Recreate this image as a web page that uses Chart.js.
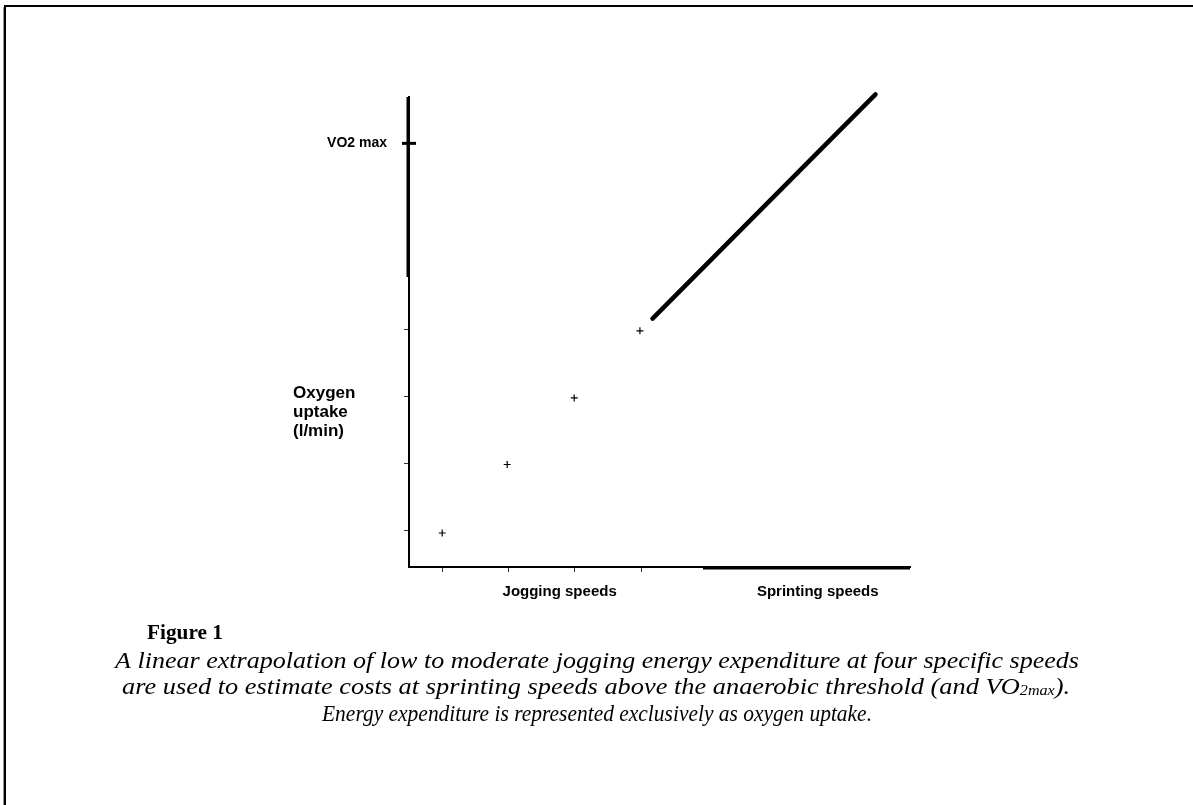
<!DOCTYPE html>
<html><head><meta charset="utf-8">
<script src="https://cdn.jsdelivr.net/npm/chart.js@4.4.0/dist/chart.umd.min.js"></script>
<style>html,body{margin:0;padding:0;background:#fff;overflow:hidden}
#wrap{position:absolute;left:0;top:0;width:1193px;height:805px}</style>
</head><body><div id="wrap"><canvas id="c" width="1193" height="805"></canvas></div>
<script>
// ---- data ----
const xTicks = [1, 2, 3, 4];
const yTicks = [1, 2, 3, 4];
const jogX = [1, 1.98, 2.99, 3.98];
const jogY = [0.97, 1.99, 2.98, 3.98];
const sprintX = [4.17, 7.53];
const sprintY = [4.16, 7.5];
const vo2maxValue = 6.77;
const vo2Label = 'VO2 max';
const yAxisLabel = ['Oxygen', 'uptake', '(l/min)'];
const xGroupLabels = ['Jogging speeds', 'Sprinting speeds'];
const xGroupCenters = [2.77, 6.66];
const captionTitle = 'Figure 1';
const captionLine1 = 'A linear extrapolation of low to moderate jogging energy expenditure at four specific speeds';
const captionLine2a = 'are used to estimate costs at sprinting speeds above the anaerobic threshold (and VO';
const captionLine2sub = '2max';
const captionLine2b = ').';
const captionLine3 = 'Energy expenditure is represented exclusively as oxygen uptake.';

const SANS = "'Liberation Sans', Arial, sans-serif";
const SERIF = "'Liberation Serif', 'Times New Roman', serif";

function drawFit(ctx, segs, cx, baseline, targetW) {
  let w = 0;
  segs.forEach(s => { ctx.font = s.font; s.w = ctx.measureText(s.text).width; w += s.w; });
  const k = targetW / w;
  ctx.save();
  ctx.translate(cx - targetW / 2, baseline);
  ctx.scale(k, 1);
  ctx.textAlign = 'left';
  ctx.textBaseline = 'alphabetic';
  let xpos = 0;
  segs.forEach(s => { ctx.font = s.font; ctx.fillText(s.text, xpos, s.dy || 0); xpos += s.w; });
  ctx.restore();
}

const decor = {
  id: 'decor',
  afterDraw(chart) {
    const { ctx, scales: { x, y }, chartArea: a } = chart;
    ctx.save();
    // page frame
    ctx.strokeStyle = '#000'; ctx.lineWidth = 2;
    ctx.beginPath(); ctx.moveTo(5, 805); ctx.lineTo(5, 6); ctx.lineTo(1193, 6); ctx.stroke();
    ctx.strokeStyle = '#999'; ctx.lineWidth = 1;
    ctx.beginPath(); ctx.moveTo(3.5, 805); ctx.lineTo(3.5, 7); ctx.stroke();
    // thicker upper part of the y axis
    ctx.strokeStyle = '#000'; ctx.lineWidth = 3;
    const ySplit = y.getPixelForValue(4.78);
    ctx.beginPath(); ctx.moveTo(a.left - 1, a.top); ctx.lineTo(a.left - 1, ySplit); ctx.stroke();
    // thicker right part of the x axis
    const xSplit = x.getPixelForValue(4.93);
    ctx.beginPath(); ctx.moveTo(xSplit, a.bottom + 1); ctx.lineTo(a.right, a.bottom + 1); ctx.stroke();
    // VO2 max tick
    const vy = y.getPixelForValue(vo2maxValue);
    ctx.lineWidth = 3;
    ctx.beginPath(); ctx.moveTo(a.left - 7, vy); ctx.lineTo(a.left + 7, vy); ctx.stroke();
    // labels
    ctx.fillStyle = '#000';
    ctx.font = 'bold 14px ' + SANS;
    ctx.textAlign = 'right'; ctx.textBaseline = 'alphabetic';
    ctx.fillText(vo2Label, a.left - 22, vy + 4);
    ctx.font = 'bold 17px ' + SANS;
    ctx.textAlign = 'left';
    yAxisLabel.forEach((t, i) => ctx.fillText(t, 293, 398 + i * 19));
    ctx.font = 'bold 15px ' + SANS;
    ctx.textAlign = 'center';
    xGroupLabels.forEach((t, i) => ctx.fillText(t, x.getPixelForValue(xGroupCenters[i]), 596));
    // caption
    drawFit(ctx, [{ text: captionTitle, font: 'bold 22px ' + SERIF }], 185, 639, 76);
    const it = 'italic 23px ' + SERIF;
    drawFit(ctx, [{ text: captionLine1, font: it }], 597, 668, 964);
    drawFit(ctx, [{ text: captionLine2a, font: it }, { text: captionLine2sub, font: 'italic 14px ' + SERIF, dy: 1 }, { text: captionLine2b, font: it }], 596, 694, 948);
    drawFit(ctx, [{ text: captionLine3, font: it }], 597, 721, 550);
    ctx.restore();
  }
};

const axisCommon = {
  type: 'linear',
  ticks: { display: false },
  grid: { drawOnChartArea: false, drawTicks: true, tickLength: 5, color: '#333', lineWidth: 1 },
  border: { display: true, color: '#000', width: 2 }
};

new Chart(document.getElementById('c').getContext('2d'), {
  type: 'scatter',
  data: {
    datasets: [
      {
        data: jogX.map((v, i) => ({ x: v, y: jogY[i] })),
        showLine: false,
        pointStyle: 'cross',
        pointRadius: 3.5,
        pointBorderColor: '#000',
        pointBackgroundColor: '#000',
        pointBorderWidth: 1.2
      },
      {
        data: sprintX.map((v, i) => ({ x: v, y: sprintY[i] })),
        showLine: true,
        borderColor: '#000',
        borderWidth: 4.5,
        borderCapStyle: 'round',
        pointRadius: 0,
        clip: false
      }
    ]
  },
  options: {
    responsive: false,
    animation: false,
    events: [],
    layout: { padding: { left: 389, right: 283, top: 97, bottom: 218 } },
    plugins: { legend: { display: false }, tooltip: { enabled: false } },
    scales: {
      x: Object.assign({}, axisCommon, {
        min: 0.5, max: 8.05,
        afterFit: s => { s.height = 20; },
        afterBuildTicks: s => { s.ticks = xTicks.map(v => ({ value: v })); }
      }),
      y: Object.assign({}, axisCommon, {
        min: 0.464, max: 7.46,
        afterFit: s => { s.width = 20; },
        afterBuildTicks: s => { s.ticks = yTicks.map(v => ({ value: v })); }
      })
    }
  },
  plugins: [decor]
});
</script>
</body></html>
